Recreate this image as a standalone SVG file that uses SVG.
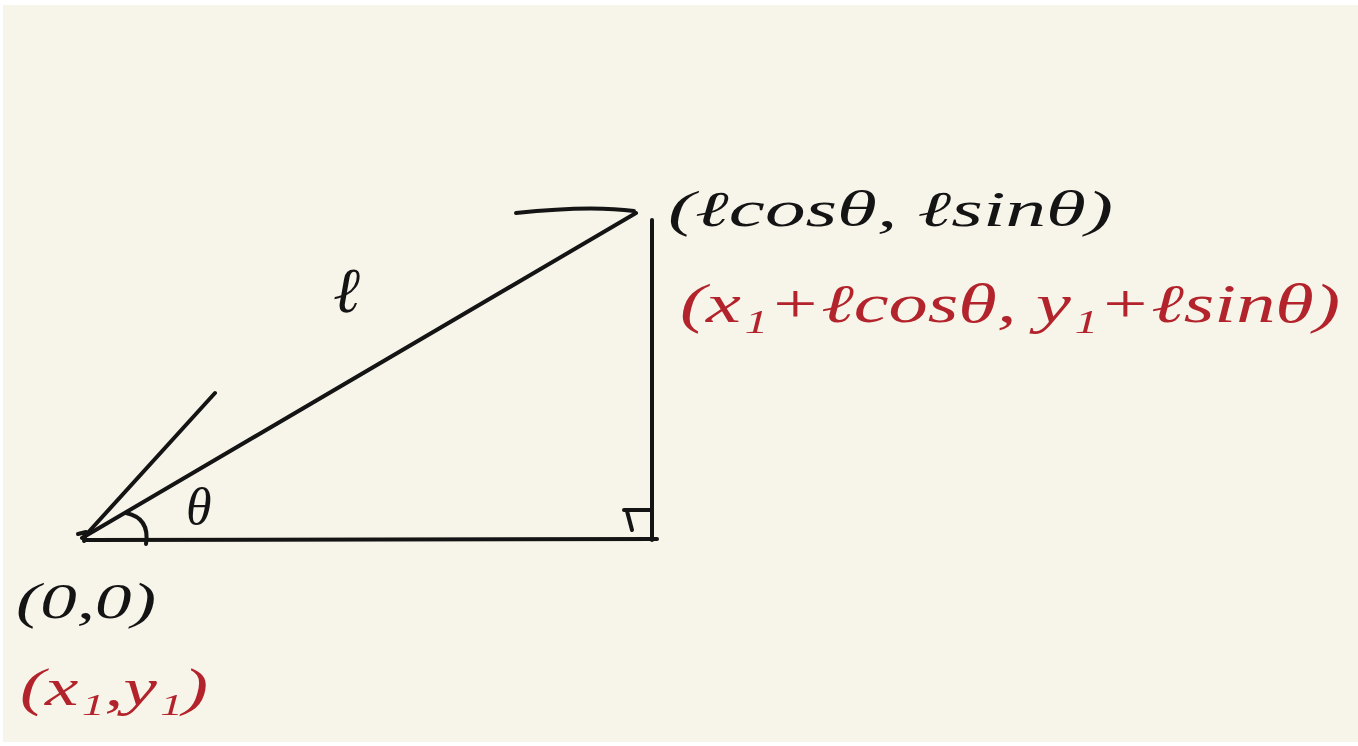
<svg xmlns="http://www.w3.org/2000/svg" width="1358" height="746" viewBox="0 0 1358 746">
<style>
.ink{fill:none;stroke:#141414;stroke-width:4;stroke-linecap:round;stroke-linejoin:round}
.t{font-family:"Liberation Serif",serif;font-style:italic;fill:#141414}
.r{fill:#b3232b}
</style>
<rect x="0" y="0" width="1358" height="746" fill="#ffffff"/>
<rect x="3" y="5" width="1355" height="737" fill="#f7f4e9"/>
<g id="connectors">
<path class="ink" d="M86 540 L657 539"/>
<path class="ink" d="M82 538 L636 213"/>
<path class="ink" d="M84 537 L215 393"/>
<path class="ink" d="M652 220 L652 540"/>
<path class="ink" d="M516 213 Q590 205 634 211"/>
<path class="ink" d="M624 510 L652 510 M627 511 L632 530"/>
<path class="ink" d="M126 513 Q150 518 146 544"/>
<path class="ink" d="M78 534 L86 532 L84 541"/>
</g>
<g id="label-theta"><text class="t" x="186" y="524" font-size="52">θ</text></g>
<g id="label-l"><text class="t" x="333" y="312" font-size="64">ℓ</text></g>
<g id="label-top"><text class="t" x="668" y="226" font-size="50" textLength="445" lengthAdjust="spacingAndGlyphs">(ℓcosθ, ℓsinθ)</text></g>
<g id="label-top-red"><text class="t r" x="680" y="322" font-size="54" textLength="660" lengthAdjust="spacingAndGlyphs">(x₁+ℓcosθ, y₁+ℓsinθ)</text></g>
<g id="label-origin"><text class="t" x="16" y="618" font-size="50" textLength="140" lengthAdjust="spacingAndGlyphs">(0,0)</text></g>
<g id="label-origin-red"><text class="t r" x="20" y="705" font-size="52" textLength="188" lengthAdjust="spacingAndGlyphs">(x₁,y₁)</text></g>
</svg>
